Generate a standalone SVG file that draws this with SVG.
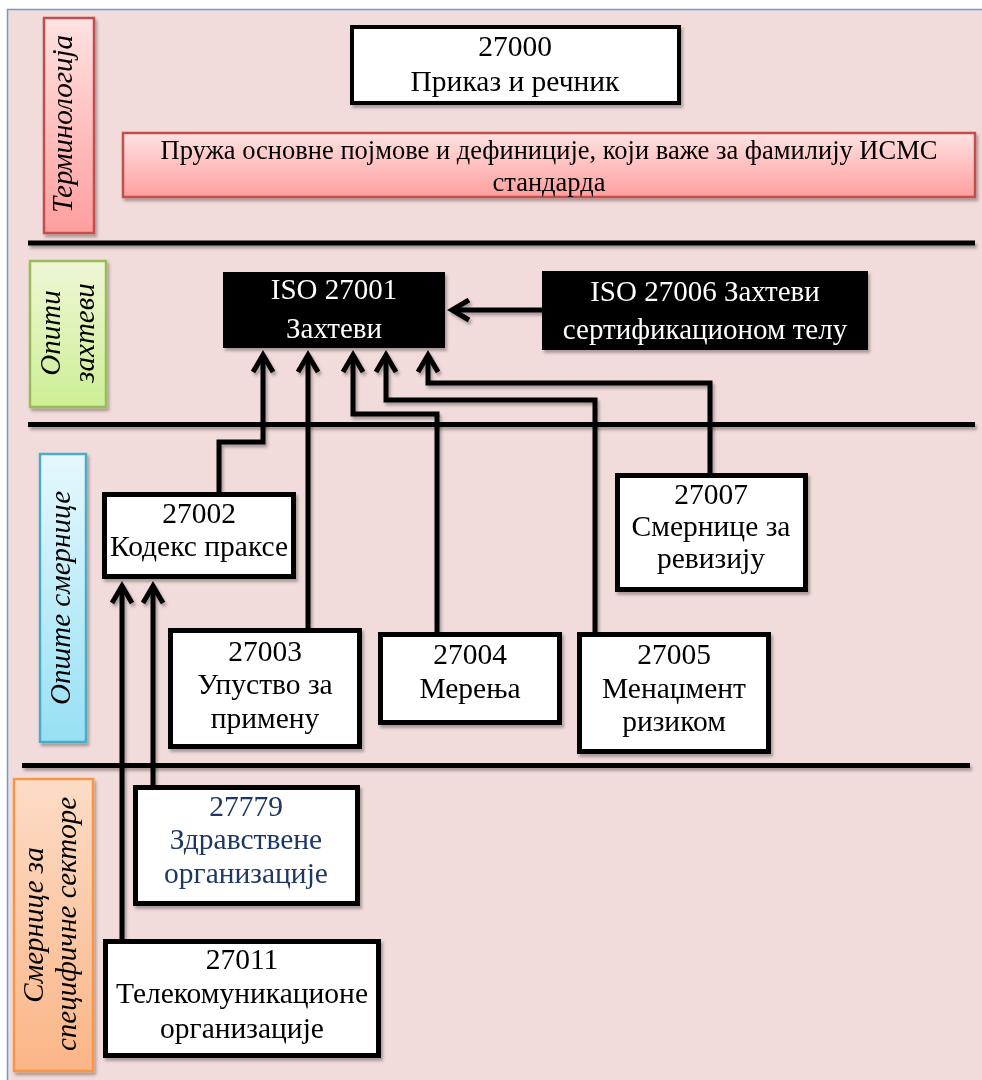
<svg xmlns="http://www.w3.org/2000/svg" width="982" height="1080" viewBox="0 0 982 1080">
  <defs>
    <style>
      text { font-family: "Liberation Serif", "Times New Roman", serif; }
      .node rect { fill: #ffffff; stroke: #000000; stroke-width: 5; }
      .node text { font-size: 29.5px; fill: #000000; text-anchor: middle; }
      .node .blue { fill: #1f3864; }
      .dark rect { fill: #000000; stroke: none; }
      .dark text { font-size: 29px; fill: #ffffff; text-anchor: middle; }
      .band text { font-size: 29px; font-style: italic; fill: #000000; text-anchor: middle; }
      .note text { font-size: 26.5px; fill: #000000; text-anchor: middle; }
      .sep { stroke: #000000; stroke-width: 5; }
      .conn { fill: none; stroke: #000000; stroke-width: 5; stroke-linejoin: miter; }
    </style>
    <filter id="shadow" filterUnits="userSpaceOnUse" x="0" y="0" width="982" height="1080">
      <feDropShadow dx="2" dy="3" stdDeviation="1.8" flood-color="#000000" flood-opacity="0.3"/>
    </filter>
    <linearGradient id="gRed" x1="0" y1="0" x2="0" y2="1">
      <stop offset="0" stop-color="#ffe2e2"/>
      <stop offset="1" stop-color="#ff9e9e"/>
    </linearGradient>
    <linearGradient id="gGreen" x1="0" y1="0" x2="0" y2="1">
      <stop offset="0" stop-color="#eef7d6"/>
      <stop offset="1" stop-color="#cdef95"/>
    </linearGradient>
    <linearGradient id="gBlue" x1="0" y1="0" x2="0" y2="1">
      <stop offset="0" stop-color="#e6f8fd"/>
      <stop offset="1" stop-color="#97e0f5"/>
    </linearGradient>
    <linearGradient id="gOrange" x1="0" y1="0" x2="0" y2="1">
      <stop offset="0" stop-color="#fcdcc6"/>
      <stop offset="1" stop-color="#fbb587"/>
    </linearGradient>
    <marker id="arrow" markerUnits="userSpaceOnUse" orient="auto" refX="0" refY="0" markerWidth="40" markerHeight="40" viewBox="-30 -20 40 40" overflow="visible">
      <path d="M-17,-10 L0,0 L-17,10" fill="none" stroke="#000000" stroke-width="5" stroke-linejoin="miter"/>
    </marker>
  </defs>

  <!-- page background and frame -->
  <rect x="0" y="0" width="982" height="1080" fill="#ffffff"/>
  <rect x="7.5" y="9.5" width="1000" height="1100" fill="#f2dcdb" stroke="#6f9bd1" stroke-width="1.5"/>

  <!-- band labels -->
  <g id="band-terminology" class="band" filter="url(#shadow)">
    <rect x="44" y="18" width="50" height="215" fill="url(#gRed)" stroke="#c0504d" stroke-width="2.5"/>
    <text transform="translate(72,124) rotate(-90)">Терминологија</text>
  </g>
  <g id="band-requirements" class="band" filter="url(#shadow)">
    <rect x="30" y="261" width="76" height="146" fill="url(#gGreen)" stroke="#9bbb59" stroke-width="2.5"/>
    <text transform="translate(60,333) rotate(-90)">Опити</text>
    <text transform="translate(94,333) rotate(-90)">захтеви</text>
  </g>
  <g id="band-guidelines" class="band" filter="url(#shadow)">
    <rect x="40" y="454" width="46" height="288" fill="url(#gBlue)" stroke="#4bacc6" stroke-width="2.5"/>
    <text transform="translate(70,598) rotate(-90)">Опште смернице</text>
  </g>
  <g id="band-sectors" class="band" filter="url(#shadow)">
    <rect x="14" y="779" width="79" height="292" fill="url(#gOrange)" stroke="#f79646" stroke-width="2.5"/>
    <text transform="translate(43,925) rotate(-90)">Смернице за</text>
    <text transform="translate(76,924) rotate(-90)">специфичне секторе</text>
  </g>

  <!-- band separators -->
  <g id="separators" filter="url(#shadow)">
    <line class="sep" x1="28" y1="243" x2="975" y2="243"/>
    <line class="sep" x1="28" y1="424.5" x2="975" y2="424.5"/>
    <line class="sep" x1="22" y1="765.5" x2="970" y2="765.5"/>
  </g>

  <!-- terminology row -->
  <g id="n27000" class="node" filter="url(#shadow)">
    <rect x="352" y="27" width="327" height="76" style="stroke-width:4"/>
    <text x="515" y="56">27000</text>
    <text x="515" y="91">Приказ и речник</text>
  </g>
  <g id="note-terminology" class="note" filter="url(#shadow)">
    <rect x="123" y="133" width="852" height="64" fill="url(#gRed)" stroke="#c0504d" stroke-width="2.5"/>
    <text x="549" y="159">Пружа основне појмове и дефиниције, који важе за фамилију ИСМС</text>
    <text x="549" y="191">стандарда</text>
  </g>

  <!-- connectors -->
  <g id="connectors" filter="url(#shadow)">
    <path class="conn" d="M219,492 V442 H263 V355" marker-end="url(#arrow)"/>
    <path class="conn" d="M308,628 V355" marker-end="url(#arrow)"/>
    <path class="conn" d="M437,632 V414 H353 V355" marker-end="url(#arrow)"/>
    <path class="conn" d="M595,632 V400 H386 V355" marker-end="url(#arrow)"/>
    <path class="conn" d="M710,473 V383 H428 V355" marker-end="url(#arrow)"/>
    <path class="conn" d="M542,310 H452" marker-end="url(#arrow)"/>
    <path class="conn" d="M153,785 V586" marker-end="url(#arrow)"/>
    <path class="conn" d="M122,939 V586" marker-end="url(#arrow)"/>
  </g>

  <!-- requirements row -->
  <g id="n27001" class="dark" filter="url(#shadow)">
    <rect x="223" y="272" width="222" height="76"/>
    <text x="334" y="299">ISO 27001</text>
    <text x="334" y="338">Захтеви</text>
  </g>
  <g id="n27006" class="dark" filter="url(#shadow)">
    <rect x="542" y="271" width="326" height="79"/>
    <text x="705" y="301">ISO 27006 Захтеви</text>
    <text x="705" y="339">сертификационом телу</text>
  </g>

  <!-- general guidelines row -->
  <g id="n27002" class="node" filter="url(#shadow)">
    <rect x="104.5" y="494.5" width="189" height="82"/>
    <text x="199" y="523">27002</text>
    <text x="199" y="556">Кодекс праксе</text>
  </g>
  <g id="n27007" class="node" filter="url(#shadow)">
    <rect x="617.5" y="475.5" width="188" height="114"/>
    <text x="711" y="504">27007</text>
    <text x="711" y="536">Смернице за</text>
    <text x="711" y="568">ревизију</text>
  </g>
  <g id="n27003" class="node" filter="url(#shadow)">
    <rect x="170.5" y="630.5" width="189" height="116"/>
    <text x="265" y="661">27003</text>
    <text x="265" y="694">Упуство за</text>
    <text x="265" y="728">примену</text>
  </g>
  <g id="n27004" class="node" filter="url(#shadow)">
    <rect x="380.5" y="634.5" width="179" height="88"/>
    <text x="470" y="664">27004</text>
    <text x="470" y="698">Мерења</text>
  </g>
  <g id="n27005" class="node" filter="url(#shadow)">
    <rect x="579.5" y="634.5" width="189" height="117"/>
    <text x="674" y="664">27005</text>
    <text x="674" y="698">Менаџмент</text>
    <text x="674" y="731">ризиком</text>
  </g>

  <!-- sector-specific row -->
  <g id="n27779" class="node" filter="url(#shadow)">
    <rect x="135.5" y="787.5" width="222" height="116"/>
    <text class="blue" x="246" y="816">27779</text>
    <text class="blue" x="246" y="849">Здравствене</text>
    <text class="blue" x="246" y="883">организације</text>
  </g>
  <g id="n27011" class="node" filter="url(#shadow)">
    <rect x="105.5" y="941.5" width="273" height="114"/>
    <text x="242" y="969">27011</text>
    <text x="242" y="1003">Телекомуникационе</text>
    <text x="242" y="1038">организације</text>
  </g>
</svg>
